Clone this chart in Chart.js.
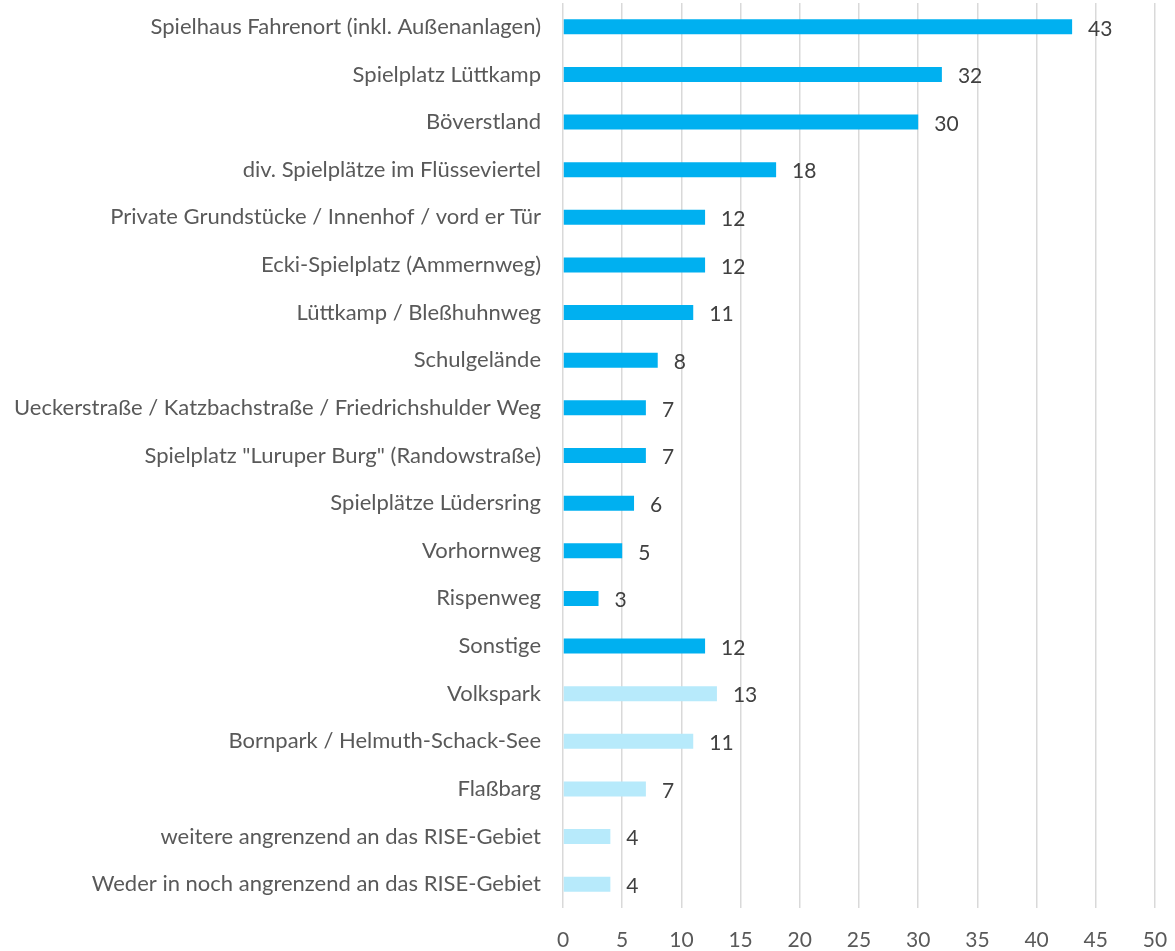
<!DOCTYPE html>
<html>
<head>
<meta charset="utf-8">
<script src="https://cdn.jsdelivr.net/npm/chart.js@4/dist/chart.umd.min.js"></script>
<style>
  html, body { margin: 0; padding: 0; background: #ffffff; }
  #wrap { width: 1175px; height: 951px; }
</style>
</head>
<body>
<div id="wrap"><canvas id="placesChart" width="1175" height="951"></canvas></div>
<script>
const places = [
  'Spielhaus Fahrenort (inkl. Außenanlagen)',
  'Spielplatz Lüttkamp',
  'Böverstland',
  'div. Spielplätze im Flüsseviertel',
  'Private Grundstücke / Innenhof / vord er Tür',
  'Ecki-Spielplatz (Ammernweg)',
  'Lüttkamp / Bleßhuhnweg',
  'Schulgelände',
  'Ueckerstraße / Katzbachstraße / Friedrichshulder Weg',
  'Spielplatz "Luruper Burg" (Randowstraße)',
  'Spielplätze Lüdersring',
  'Vorhornweg',
  'Rispenweg',
  'Sonstige',
  'Volkspark',
  'Bornpark / Helmuth-Schack-See',
  'Flaßbarg',
  'weitere angrenzend an das RISE-Gebiet',
  'Weder in noch angrenzend an das RISE-Gebiet'
];
const mentions = [43, 32, 30, 18, 12, 12, 11, 8, 7, 7, 6, 5, 3, 12, 13, 11, 7, 4, 4];
// true = inside the area (dark blue), false = around it (light blue)
const insideArea = [true, true, true, true, true, true, true, true, true, true, true, true, true, true, false, false, false, false, false];
const xTicks = [0, 5, 10, 15, 20, 25, 30, 35, 40, 45, 50];

const fontFamily = "Lato, 'Open Sans', 'Noto Sans', sans-serif";

// value labels right of each bar
const valueLabels = {
  id: 'valueLabels',
  afterDatasetsDraw(chart) {
    const ctx = chart.ctx;
    const meta = chart.getDatasetMeta(0);
    ctx.save();
    ctx.font = '21px ' + fontFamily;
    ctx.fillStyle = '#404040';
    ctx.textAlign = 'left';
    ctx.textBaseline = 'middle';
    meta.data.forEach((bar, i) => {
      ctx.fillText(String(mentions[i]), bar.x + 16, bar.y + 2);
    });
    ctx.restore();
  }
};

new Chart(document.getElementById('placesChart').getContext('2d'), {
  type: 'bar',
  data: {
    labels: places,
    datasets: [
      {
        label: 'Nennungen',
        data: mentions,
        backgroundColor: insideArea.map(inside => inside ? '#00B0F0' : '#B7EAFB'),
        borderWidth: 0,
        categoryPercentage: 1,
        barPercentage: 0.315
      }
    ]
  },
  options: {
    indexAxis: 'y',
    responsive: false,
    animation: false,
    devicePixelRatio: 1,
    layout: { padding: { top: 3, right: 20, bottom: 0, left: 0 } },
    plugins: {
      legend: { display: false },
      tooltip: { enabled: false }
    },
    scales: {
      x: {
        min: 0,
        max: 50,
        afterBuildTicks(scale) {
          scale.ticks = xTicks.map(v => ({ value: v }));
        },
        afterFit(scale) {
          scale.height = 43;
          scale.paddingLeft = 0;
          scale.paddingRight = 0;
        },
        grid: { color: '#D9D9D9', lineWidth: 1.5, drawTicks: false },
        border: { display: false },
        ticks: {
          padding: 20,
          color: '#595959',
          font: { family: fontFamily, size: 21 }
        }
      },
      y: {
        afterFit(scale) {
          scale.width = 563;
          scale.paddingTop = 0;
          scale.paddingBottom = 0;
        },
        grid: { display: false, drawTicks: false },
        border: { display: false },
        ticks: {
          padding: 22,
          color: '#595959',
          font: { family: fontFamily, size: 22 }
        }
      }
    }
  },
  plugins: [valueLabels]
});
</script>
</body>
</html>
